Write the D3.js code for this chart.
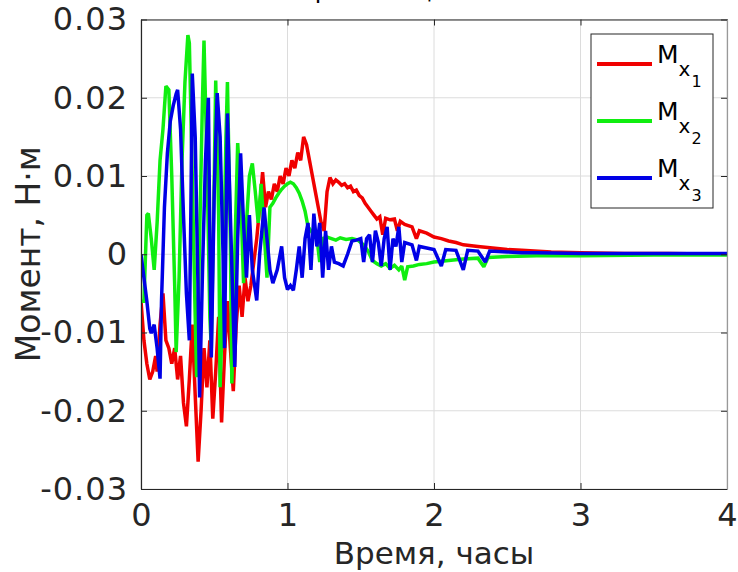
<!DOCTYPE html>
<html>
<head>
<meta charset="utf-8">
<script src="https://cdn.jsdelivr.net/npm/d3@7"></script>
<style>
  html, body { margin: 0; padding: 0; background: #fff; }
  svg { display: block; font-family: "DejaVu Sans", sans-serif; }
</style>
</head>
<body>
<svg id="chart" width="738" height="572"></svg>
<script>
// ---- data ----
const titleText = "Управляющие моменты";
const xLabel = "Время, часы";
const yLabel = "Момент, Н·м";
const xTicks = [0, 1, 2, 3, 4];
const yTicks = [-0.03, -0.02, -0.01, 0, 0.01, 0.02, 0.03];
const yTickLabels = ["-0.03", "-0.02", "-0.01", "0", "0.01", "0.02", "0.03"];
const seriesNames = ["1", "2", "3"];
const seriesColors = ["#f00000", "#10ee10", "#0000e6"];

// M_x1 (red): [time, value]
const mx1 = [
  [0,-0.006],[0.02,-0.011],[0.04,-0.014],[0.06,-0.016],[0.08,-0.015],[0.10,-0.013],[0.11,-0.015],
  [0.13,-0.009],[0.15,-0.005],[0.17,-0.011],[0.19,-0.012],[0.21,-0.014],[0.23,-0.012],[0.25,-0.016],
  [0.27,-0.013],[0.29,-0.019],[0.31,-0.022],[0.33,-0.016],[0.35,-0.009],[0.37,-0.018],[0.39,-0.0265],
  [0.41,-0.02],[0.43,-0.012],[0.45,-0.017],[0.47,-0.011],[0.49,-0.021],[0.51,-0.015],[0.53,-0.008],
  [0.55,-0.0215],[0.57,-0.013],[0.59,-0.006],[0.61,-0.012],[0.63,-0.0175],[0.65,-0.009],[0.67,-0.004],
  [0.69,-0.008],[0.71,-0.003],[0.73,-0.006],[0.75,-0.004],[0.77,-0.001],[0.79,0.002],[0.81,0.006],
  [0.83,0.0105],[0.85,0.006],[0.87,0.008],[0.89,0.007],[0.91,0.009],[0.93,0.008],[0.95,0.010],
  [0.97,0.009],[0.99,0.011],[1.01,0.010],[1.03,0.012],[1.05,0.011],[1.07,0.013],[1.09,0.012],
  [1.11,0.015],[1.13,0.014],[1.15,0.012],[1.17,0.010],[1.19,0.008],[1.21,0.006],[1.23,0.004],
  [1.25,0.003],[1.27,0.008],[1.29,0.0098],[1.31,0.009],[1.33,0.0095],[1.35,0.0092],[1.37,0.0088],
  [1.39,0.009],[1.41,0.0085],[1.43,0.0087],[1.45,0.008],[1.47,0.0082],[1.49,0.0075],[1.51,0.0072],
  [1.53,0.0065],[1.55,0.006],[1.57,0.0055],[1.59,0.005],[1.61,0.0045],[1.63,0.0048],[1.65,0.0025],
  [1.67,0.0046],[1.70,0.0044],[1.73,0.0045],[1.75,0.003],[1.77,0.0042],[1.80,0.0038],[1.85,0.0035],
  [1.88,0.002],[1.90,0.003],[1.95,0.0027],[2.0,0.0022],[2.05,0.002],[2.1,0.0017],[2.15,0.0015],
  [2.2,0.0012],[2.3,0.001],[2.4,0.0008],[2.5,0.0006],[2.6,0.0005],[2.8,0.0003],[3.0,0.0002],
  [3.3,0.0001],[3.6,0.0001],[4.0,0]
];

// M_x2 (green)
const mx2 = [
  [0,-0.006],[0.02,-0.006],[0.04,0.005],[0.05,0.0052],[0.07,0.002],[0.09,-0.002],[0.11,0.004],
  [0.13,0.012],[0.15,0.016],[0.17,0.0215],[0.19,0.021],[0.21,0.01],[0.23,-0.004],[0.24,-0.0125],
  [0.26,-0.003],[0.28,0.012],[0.30,0.022],[0.32,0.028],[0.33,0.027],[0.35,0.01],[0.37,-0.008],
  [0.38,-0.0157],[0.40,0.002],[0.42,0.02],[0.43,0.0273],[0.45,0.012],[0.47,-0.008],[0.48,-0.012],
  [0.50,0.01],[0.51,0.0222],[0.53,0.005],[0.54,-0.017],[0.56,-0.005],[0.58,0.015],[0.59,0.022],
  [0.61,0.002],[0.62,-0.0165],[0.64,0.0],[0.66,0.0142],[0.68,0.008],[0.70,-0.0037],[0.72,0.004],
  [0.74,0.01],[0.76,0.0116],[0.78,0.008],[0.80,0.004],[0.82,0.009],[0.84,0.003],[0.86,-0.003],
  [0.88,0.006],[0.90,0.0065],[0.92,0.0072],[0.94,0.0078],[0.96,0.0083],[0.98,0.0087],[1.00,0.009],
  [1.02,0.0092],[1.04,0.009],[1.06,0.0085],[1.08,0.0078],[1.10,0.0068],[1.12,0.0055],[1.14,0.0035],
  [1.16,0.003],[1.18,0.0025],[1.20,0.0022],[1.22,-0.001],[1.24,0.002],[1.27,0.0022],[1.30,0.002],
  [1.33,0.0018],[1.36,0.0021],[1.40,0.0019],[1.44,0.002],[1.48,0.0018],[1.52,0.0012],[1.55,0.0004],
  [1.58,-0.0008],[1.61,-0.0012],[1.64,-0.0015],[1.67,-0.0012],[1.70,-0.0018],[1.73,-0.0014],
  [1.76,-0.002],[1.78,-0.0015],[1.80,-0.0033],[1.82,-0.0016],[1.86,-0.0015],[1.90,-0.0013],
  [1.95,-0.0012],[2.0,-0.001],[2.05,-0.0009],[2.1,-0.0008],[2.2,-0.0006],[2.3,-0.0005],
  [2.34,-0.0016],[2.37,-0.0004],[2.5,-0.0003],[2.7,-0.0002],[3.0,-0.0002],[3.5,-0.0001],[4.0,-0.0001]
];

// M_x3 (blue)
const mx3 = [
  [0,0],[0.02,-0.003],[0.04,-0.006],[0.06,-0.0095],[0.07,-0.0101],[0.09,-0.009],[0.11,-0.012],
  [0.13,-0.0159],[0.14,-0.006],[0.16,0.006],[0.18,0.0129],[0.20,0.017],[0.22,0.019],[0.24,0.0205],
  [0.25,0.021],[0.27,0.016],[0.29,0.005],[0.31,-0.005],[0.33,-0.011],[0.34,0.005],[0.35,0.0231],
  [0.37,0.015],[0.39,-0.005],[0.40,-0.0183],[0.42,-0.002],[0.44,0.012],[0.46,0.020],[0.47,0.002],
  [0.48,-0.0132],[0.50,0.008],[0.52,0.0206],[0.54,0.015],[0.56,0.0],[0.57,-0.012],[0.59,0.018],
  [0.61,0.005],[0.63,-0.008],[0.64,-0.0144],[0.66,0.002],[0.68,0.0129],[0.70,0.004],[0.72,-0.003],
  [0.74,0.005],[0.76,-0.002],[0.79,-0.0059],[0.81,0.0],[0.84,0.006],[0.86,0.002],[0.88,-0.002],
  [0.90,-0.0037],[0.93,-0.002],[0.96,0.001],[0.98,-0.003],[1.00,-0.0045],[1.02,-0.004],
  [1.04,-0.0046],[1.06,-0.002],[1.08,0.001],[1.10,-0.003],[1.12,0.002],[1.14,0.004],[1.16,-0.002],
  [1.18,0.0052],[1.20,0.001],[1.22,0.004],[1.24,-0.003],[1.26,0.003],[1.28,-0.002],[1.30,0.001],
  [1.32,-0.001],[1.35,-0.0012],[1.38,-0.0015],[1.41,0.0],[1.44,0.0017],[1.47,0.0018],[1.50,0.002],
  [1.52,-0.001],[1.54,0.002],[1.56,0.0025],[1.58,-0.001],[1.60,0.003],[1.62,0.0015],[1.64,-0.0015],
  [1.66,0.002],[1.68,0.0035],[1.70,-0.002],[1.72,0.002],[1.74,0.001],[1.76,0.0035],[1.78,-0.001],
  [1.80,0.0015],[1.85,0.0012],[1.88,-0.0008],[1.90,0.001],[1.95,0.0008],[2.0,0.0006],[2.05,-0.0015],
  [2.08,0.0006],[2.15,0.0005],[2.2,-0.002],[2.23,0.0005],[2.3,0.0004],[2.35,-0.001],[2.38,0.0004],
  [2.5,0.0003],[2.6,0.0002],[2.7,0.0002],[3.0,0.0001],[3.5,0.0001],[4.0,0.0001]
];
const seriesData = [mx1, mx2, mx3];

// ---- layout ----
const svg = d3.select("#chart");
const plot = { left: 141, right: 727, top: 19.5, bottom: 489 };
const x = d3.scaleLinear().domain([0, 4]).range([plot.left, plot.right]);
const y = d3.scaleLinear().domain([-0.03, 0.03]).range([plot.bottom, plot.top]);
const axisColor = "#262626";
const tickFont = 32;
const xLabelFont = 31;
const yLabelFont = 33;

// title (mostly clipped at the top edge, as in the reference)
svg.append("text")
  .attr("x", (plot.left + plot.right) / 2)
  .attr("y", -2)
  .attr("text-anchor", "middle")
  .attr("font-size", 24)
  .attr("fill", "#000")
  .text(titleText);

// grid
const grid = svg.append("g");
grid.selectAll("line.gx").data(xTicks).join("line")
  .attr("x1", d => x(d)).attr("x2", d => x(d))
  .attr("y1", plot.top).attr("y2", plot.bottom)
  .attr("stroke", "#dcdcdc").attr("stroke-width", 1);
grid.selectAll("line.gy").data(yTicks).join("line")
  .attr("x1", plot.left).attr("x2", plot.right)
  .attr("y1", d => y(d)).attr("y2", d => y(d))
  .attr("stroke", "#dcdcdc").attr("stroke-width", 1);

// clip
svg.append("defs").append("clipPath").attr("id", "clip")
  .append("rect").attr("x", plot.left).attr("y", plot.top)
  .attr("width", plot.right - plot.left).attr("height", plot.bottom - plot.top);

const line = d3.line().x(d => x(d[0])).y(d => y(d[1]));
svg.append("g").attr("clip-path", "url(#clip)")
  .selectAll("path").data(seriesData).join("path")
  .attr("d", d => line(d))
  .attr("fill", "none")
  .attr("stroke", (d, i) => seriesColors[i])
  .attr("stroke-width", 3.5)
  .attr("stroke-linejoin", "miter")
  .attr("stroke-miterlimit", 2);

// axes (MATLAB-style inward ticks, box)
const tickLen = 6;
const axB = svg.append("g").attr("transform", `translate(0,${plot.bottom})`)
  .call(d3.axisBottom(x).tickValues(xTicks).tickFormat(d3.format("d")).tickSizeInner(-tickLen).tickSizeOuter(0).tickPadding(14));
const axT = svg.append("g").attr("transform", `translate(0,${plot.top})`)
  .call(d3.axisTop(x).tickValues(xTicks).tickFormat("").tickSizeInner(-tickLen).tickSizeOuter(0));
const axL = svg.append("g").attr("transform", `translate(${plot.left},0)`)
  .call(d3.axisLeft(y).tickValues(yTicks).tickFormat((d, i) => yTickLabels[i]).tickSizeInner(-tickLen).tickSizeOuter(0).tickPadding(13));
const axR = svg.append("g").attr("transform", `translate(${plot.right},0)`)
  .call(d3.axisRight(y).tickValues(yTicks).tickFormat("").tickSizeInner(-tickLen).tickSizeOuter(0));
[axB, axT, axL, axR].forEach(a => {
  a.selectAll(".domain").attr("stroke", axisColor).attr("stroke-width", 1.2);
  a.selectAll(".tick line").attr("stroke", axisColor).attr("stroke-width", 1);
  a.selectAll("text").attr("font-size", tickFont).attr("fill", axisColor)
    .attr("font-family", "DejaVu Sans, sans-serif");
});
axL.selectAll("text").attr("letter-spacing", 1);
axR.select(".domain").attr("stroke", "#999");

// axis labels
svg.append("text")
  .attr("x", (plot.left + plot.right) / 2).attr("y", 564)
  .attr("text-anchor", "middle").attr("font-size", xLabelFont).attr("fill", axisColor)
  .text(xLabel);
svg.append("text")
  .attr("transform", `translate(40,${(plot.top + plot.bottom) / 2}) rotate(-90)`)
  .attr("text-anchor", "middle").attr("font-size", yLabelFont).attr("fill", axisColor)
  .text(yLabel);

// legend
const lg = svg.append("g");
lg.append("rect").attr("x", 591).attr("y", 34).attr("width", 122).attr("height", 174)
  .attr("fill", "#fff").attr("stroke", axisColor).attr("stroke-width", 1);
const rowY = d3.scaleLinear().domain([0, 2]).range([64, 178]);
seriesNames.forEach((nm, i) => {
  const yy = rowY(i);
  lg.append("line").attr("x1", 597).attr("x2", 652).attr("y1", yy).attr("y2", yy)
    .attr("stroke", seriesColors[i]).attr("stroke-width", 4);
  const t = lg.append("text").attr("x", 657).attr("y", yy - 1).attr("fill", "#000");
  t.append("tspan").attr("font-size", 25).text("M");
  t.append("tspan").attr("font-size", 20).attr("dy", 13).text("x");
  t.append("tspan").attr("font-size", 16).attr("dy", 11).attr("dx", 1).text(nm);
});
</script>
</body>
</html>
